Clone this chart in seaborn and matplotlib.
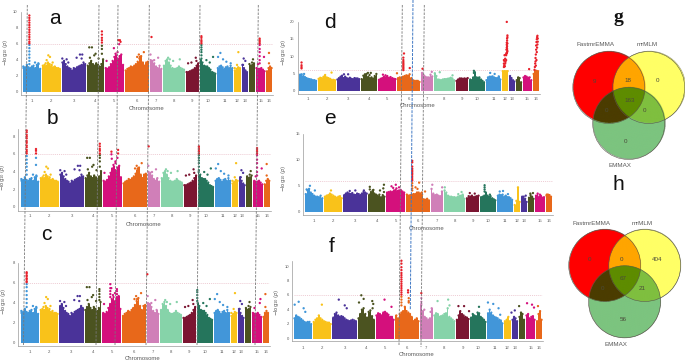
"""
Manhattan plots (a-f) and Venn diagrams (g, h) of significant loci.
"""

import matplotlib
matplotlib.use("Agg")
import matplotlib.pyplot as plt
from matplotlib.patches import Circle
import seaborn as sns
import pandas as pd
import numpy as np

chrom_labels = ["1", "2", "3", "4", "5", "6", "7", "8", "9", "10", "11", "12", "13", "", "15", "16"]
chrom_lengths = [55, 56, 73, 51, 57, 72, 37, 65, 40, 48, 48, 20, 18, 18, 29, 18]
chrom_colors = ["#3f96d9", "#f9c21a", "#4a3399", "#4b5320", "#d4107c", "#e8681a", "#d07fb8", "#86d3a9",
                "#7b1531", "#25755c", "#4296d9", "#f9c21a", "#4a3399", "#4b5320", "#d4107c", "#e8681a"]
threshold = 6

# Сплошная часть каждой хромосомы (верхняя граница облака точек)
abc_profile = [
    [3.0, 3.1, 3.4, 3.1, 3.0, 3.2, 3.3, 3.0, 3.4, 3.5, 2.9],
    [3.3, 3.4, 3.3, 3.7, 3.5, 3.3, 3.1, 3.2, 3.0, 3.0, 2.9],
    [3.7, 3.9, 3.5, 3.2, 3.0, 2.9, 2.7, 3.0, 2.9, 3.1, 3.2, 3.3, 3.4, 3.7, 3.5],
    [3.3, 3.6, 3.9, 3.5, 3.3, 3.6, 3.4, 3.2, 3.5, 4.1],
    [3.0, 2.9, 3.1, 3.5, 3.9, 4.4, 4.6, 4.2, 4.5, 4.7, 3.4],
    [2.7, 2.9, 3.0, 3.2, 3.1, 3.3, 3.5, 3.8, 4.2, 4.5, 3.7, 3.3, 3.7, 3.8],
    [4.0, 3.9, 3.6, 3.2, 3.0, 3.3, 2.9],
    [3.3, 3.9, 4.1, 3.7, 3.3, 3.0, 2.9, 2.9, 3.0, 3.2, 3.0, 2.9, 2.8],
    [2.5, 2.5, 2.6, 2.7, 2.8, 3.0, 3.3, 3.6],
    [4.0, 3.7, 3.3, 3.2, 3.2, 3.0, 2.8, 2.5, 2.4, 2.3],
    [3.0, 3.2, 3.3, 3.1, 2.9, 3.1, 3.2, 3.0, 3.3, 3.0],
    [2.7, 2.9, 3.1, 3.0],
    [3.4, 3.0, 2.7, 2.5],
    [3.5, 3.3, 3.4, 3.6],
    [3.0, 2.9, 2.9, 3.0, 2.8, 2.6],
    [2.6, 3.0, 3.2, 3.0],
]
d_profile = [
    [4.8, 4.9, 4.4, 4.1, 3.8, 3.6, 3.5, 3.4, 3.2, 3.2, 3.0],
    [3.6, 3.9, 3.8, 4.2, 4.7, 4.0, 3.8, 3.6, 3.3, 3.3, 3.2],
    [3.4, 3.8, 4.2, 4.5, 3.8, 4.2, 3.8, 3.6, 3.9, 3.6, 3.5, 3.8, 3.7, 3.7, 3.5],
    [3.5, 4.5, 4.9, 5.0, 4.2, 3.8, 4.0, 3.7, 4.4, 5.0],
    [3.3, 3.6, 3.8, 4.2, 4.0, 4.4, 3.9, 4.1, 3.8, 3.6, 3.5],
    [3.8, 4.0, 3.9, 4.2, 4.4, 4.6, 4.5, 4.9, 3.8, 3.2, 3.0, 3.0, 3.0, 2.7],
    [5.3, 4.6, 4.2, 4.0, 4.0, 4.8, 4.3],
    [5.2, 4.4, 3.4, 3.3, 3.2, 3.4, 3.5, 3.5, 3.6, 3.7, 3.9, 3.7, 3.2],
    [3.0, 3.4, 3.7, 3.7, 3.6, 3.7, 3.6, 3.8],
    [3.4, 3.2, 4.0, 5.5, 4.0, 3.9, 4.0, 3.4, 3.0, 2.6],
    [3.2, 4.0, 4.2, 4.2, 4.3, 4.0, 3.8, 3.8, 4.3, 3.4],
    [5.8, 5.8, 5.8, 5.8],
    [4.4, 3.8, 3.2, 2.8],
    [3.2, 4.0, 3.8, 2.6],
    [4.0, 4.4, 4.2, 3.9, 4.0, 3.2],
    [5.0, 5.8, 5.9, 5.8],
]
e_profile = [
    [3.5, 4.2, 4.5, 3.8, 3.5, 3.2, 3.0, 3.0, 2.9, 3.2, 2.7],
    [3.0, 3.2, 3.3, 3.6, 3.4, 3.2, 3.0, 2.8, 3.0, 3.1, 2.7],
    [3.3, 3.6, 3.8, 3.6, 3.5, 3.7, 3.4, 3.3, 3.6, 3.5, 3.3, 3.6, 3.9, 3.8, 3.6],
    [3.4, 3.9, 4.2, 3.6, 3.4, 3.2, 3.4, 2.9, 3.3, 3.0],
    [3.8, 3.9, 4.0, 3.9, 4.2, 4.3, 4.1, 4.2, 4.3, 4.0, 3.8],
    [3.4, 3.2, 3.3, 3.4, 3.5, 3.5, 3.8, 3.8, 3.6, 3.4, 2.5, 2.4, 2.6, 2.3],
    [4.5, 3.6, 3.3, 3.4, 3.2, 3.1, 4.0],
    [4.2, 3.8, 3.2, 3.0, 3.0, 2.9, 2.9, 2.8, 3.0, 3.1, 3.2, 3.4, 2.6],
    [2.7, 3.1, 3.0, 3.2, 2.9, 3.0, 3.1, 3.2],
    [2.9, 3.0, 3.2, 3.8, 3.2, 3.0, 3.1, 2.7, 2.5, 2.3],
    [3.2, 3.4, 3.3, 3.4, 3.0, 3.2, 2.9, 2.9, 2.7, 2.4],
    [1.4, 2.2, 4.8, 2.0],
    [3.0, 3.0, 2.6, 2.0],
    [2.8, 3.3, 3.0, 2.6],
    [3.2, 3.6, 3.0, 3.2, 2.8, 2.9],
    [3.2, 3.4, 3.3, 3.0],
]
f_profile = [
    [2.8, 3.2, 3.0, 2.9, 2.7, 2.5, 2.3, 2.2, 2.3, 2.3, 2.0],
    [2.3, 2.6, 2.8, 3.2, 2.8, 2.6, 2.4, 2.3, 2.2, 2.2, 2.0],
    [2.9, 3.4, 3.6, 3.2, 3.0, 3.1, 3.0, 2.8, 2.6, 2.5, 2.4, 2.5, 2.6, 2.5, 2.4],
    [2.8, 3.4, 4.0, 4.2, 3.4, 2.9, 3.7, 3.9, 3.1, 2.6],
    [3.2, 3.5, 3.4, 3.2, 3.6, 3.7, 3.5, 3.3, 3.0, 3.0, 2.6],
    [3.2, 2.8, 3.4, 3.6, 3.8, 4.4, 3.8, 3.6, 3.4, 3.0, 2.4, 2.6, 2.8, 2.4],
    [4.6, 3.8, 3.0, 2.8, 2.6, 2.8, 4.2],
    [3.2, 3.5, 3.4, 3.0, 3.1, 3.2, 3.4, 3.5, 4.2, 3.0, 2.8, 2.6, 2.4],
    [2.6, 3.2, 3.8, 3.4, 3.2, 3.0, 2.9, 2.7],
    [2.9, 3.4, 3.2, 3.1, 3.6, 3.5, 3.0, 2.8, 2.6, 2.3],
    [3.5, 4.0, 3.6, 3.2, 3.0, 2.9, 2.8, 2.6, 2.5, 2.1],
    [2.4, 2.6, 3.0, 2.4],
    [2.6, 3.0, 2.8, 2.4],
    [3.0, 3.6, 3.4, 2.6],
    [3.2, 3.4, 2.8, 3.0, 3.1, 2.6],
    [2.4, 3.4, 3.8, 2.6],
]

# Отдельные точки над облаком: позиция по геному и -log10(p)
abc_pos = [37, 47, 2, 77, 82, 72, 90, 69, 87, 119, 132, 172, 162, 179, 177, 137, 200, 208, 215, 202, 228, 219,
           252, 274, 279, 285, 364, 349, 344, 352, 384, 407, 395, 437, 442, 472, 452, 520, 522, 507, 497,
           572, 552, 562, 594, 587, 602, 612, 625, 648, 644, 637, 664, 669, 662, 692, 689, 725, 707, 740, 740]
abc_logp = [3.7, 3.6, 3.2, 4.6, 4.4, 4.0, 3.7, 3.6, 3.4, 4.2, 4.1, 4.7, 4.3, 4.7, 4.2, 3.7, 5.6, 5.6, 4.6, 4.3, 4.2, 4.8,
            3.9, 5.5, 4.8, 5.0, 5.0, 4.7, 4.4, 4.4, 4.7, 4.3, 4.0, 4.3, 4.1, 4.1, 3.9, 4.3, 3.9, 3.7, 3.6,
            4.4, 4.0, 3.7, 4.9, 4.4, 4.1, 3.8, 3.6, 5.0, 3.4, 3.0, 4.2, 3.9, 3.4, 4.1, 3.7, 4.4, 3.5, 4.9, 3.6]

a_pos = [20] * 20 + [238] * 8 + [292, 294, 290, 287] + [387] + [537] * 11 + [712] * 10
a_logp = [3.5, 3.9, 4.3, 4.7, 5.1, 5.5, 5.9, 6.1, 6.3, 6.6, 6.9, 7.2, 7.5, 7.8, 8.1, 8.4, 8.7, 9.0, 9.3, 9.6,
          7.6, 7.2, 6.8, 6.5, 6.2, 5.8, 5.4, 4.8, 6.5, 6.3, 6.0, 6.5, 6.9,
          4.2, 4.6, 5.0, 5.3, 5.6, 5.9, 6.1, 6.3, 6.5, 6.8, 7.0,
          3.6, 4.0, 4.5, 5.0, 5.4, 5.9, 6.1, 6.3, 6.5, 6.7]

b_pos = [18] * 18 + [46] * 5 + [238] * 9 + [273, 273, 293, 293, 291, 285] + [385] + [536] * 11 + [711] * 10
b_logp = [3.7, 4.2, 4.6, 5.0, 5.4, 5.8, 6.1, 6.3, 6.5, 6.8, 7.0, 7.3, 7.5, 7.8, 8.0, 8.2, 8.5, 8.7,
          4.8, 5.6, 6.1, 6.4, 6.6,
          4.6, 5.2, 5.6, 5.9, 6.1, 6.4, 6.6, 6.9, 7.2, 6.3, 6.0, 6.1, 6.5, 5.6, 5.2, 6.9,
          4.2, 4.6, 5.0, 5.3, 5.6, 5.9, 6.1, 6.3, 6.5, 6.7, 6.9,
          3.6, 4.0, 4.5, 5.0, 5.4, 5.9, 6.1, 6.3, 6.5, 6.7]

c_pos = [18] * 15 + [238] * 5 + [271] * 5 + [291] * 4 + [383] + [534] * 5 + [723]
c_logp = [3.6, 4.0, 4.4, 4.8, 5.2, 5.6, 5.9, 6.1, 6.2, 6.4, 6.5, 6.7, 6.8, 7.0, 7.1,
          4.3, 4.6, 4.9, 5.2, 5.4, 4.6, 4.9, 5.2, 5.5, 5.9, 4.6, 4.9, 5.2, 5.4, 6.9, 4.2, 4.5, 4.8, 5.1, 5.3, 4.0]

d_pos = [7, 7, 7, 7, 15, 326, 326, 326, 326, 326, 326, 326, 326, 326, 328, 346, 386, 415, 101, 140, 153, 215,
         220, 224, 262, 270, 306, 480, 440, 547, 547, 598, 612, 720,
         641, 641, 641, 642, 642, 643, 644, 645, 645, 646, 647, 648, 648, 649, 649, 650, 650, 650, 650, 651,
         651, 651, 651, 651, 652, 652, 652, 652, 650,
         737, 738, 739, 740, 740, 741, 741, 742, 742, 743, 743, 744, 744, 745, 745, 746, 746, 747, 747]
d_logp = [8.3, 7.5, 7.0, 6.6, 5.0, 6.1, 6.5, 6.9, 7.3, 7.7, 8.1, 8.5, 9.0, 9.7, 10.9, 6.7, 6.5, 5.6, 5.4, 4.9, 4.9, 5.3,
          4.7, 5.3, 4.8, 4.6, 5.2, 4.6, 5.5, 5.9, 5.3, 5.3, 5.0, 6.4,
          7.0, 8.0, 9.0, 7.5, 8.8, 10.4, 7.2, 8.0, 9.4, 8.5, 10.6, 9.0, 10.4, 11.0, 12.0, 10.9, 12.6, 13.4, 14.0, 11.3,
          12.2, 13.0, 14.6, 15.2, 11.6, 13.8, 15.6, 16.1, 20.0,
          6.2, 7.0, 8.0, 8.6, 9.6, 7.4, 10.6, 12.0, 13.2, 9.0, 14.2, 11.3, 15.0, 12.6, 15.6, 13.5, 16.0, 14.3, 15.2]

e_pos = [15, 5, 10, 30, 79, 136, 153, 179, 197, 197, 208, 240, 238, 228, 240, 263, 276, 286, 268, 278,
         326, 326, 326, 326, 326, 326, 326, 326, 326, 326, 326, 326, 326, 326, 326,
         347, 342, 365, 355, 336, 387, 417, 400, 425, 476, 466, 501, 516, 546, 546, 546, 546, 562, 602, 592, 617,
         671, 693, 685, 714, 735]
e_logp = [5.1, 4.4, 4.3, 4.2, 4.2, 4.1, 4.2, 4.2, 4.9, 4.4, 4.3, 5.3, 4.6, 4.2, 3.9, 5.0, 5.3, 4.8, 4.7, 4.6,
          4.2, 4.6, 5.1, 5.6, 6.1, 6.4, 6.8, 7.2, 7.5, 7.8, 8.1, 8.4, 8.8, 9.6, 9.9,
          5.7, 4.5, 4.0, 3.8, 4.8, 5.3, 4.8, 3.3, 4.8, 3.9, 3.5, 3.7, 3.6, 4.0, 4.4, 4.8, 5.2, 3.4, 4.1, 4.0, 3.5,
          3.2, 3.7, 3.6, 3.4, 3.4]

f_pos = [3, 15, 30, 35, 85, 136, 154, 160, 204, 211, 197, 237, 240, 238, 274, 295,
         325, 325, 325, 325, 325, 325, 325, 325, 325, 325, 325, 325, 325, 325, 325, 325, 325, 325, 325,
         345, 345, 347, 347, 347, 385, 385, 385, 385, 394, 413,
         434, 466, 470, 497, 514, 529, 559, 586, 602, 618, 623, 657, 667, 680, 704, 719, 737, 725]
f_logp = [4.7, 5.1, 4.2, 3.7, 4.7, 5.4, 4.6, 4.2, 6.0, 5.5, 5.0, 5.2, 4.8, 4.2, 5.4, 4.4,
          4.6, 5.0, 5.4, 5.8, 6.1, 6.4, 6.7, 7.0, 7.3, 7.6, 7.9, 8.2, 8.5, 8.8, 9.1, 9.5, 9.9, 10.4, 10.8,
          6.7, 6.4, 5.6, 5.2, 5.0, 6.3, 5.6, 5.1, 4.8, 4.0, 3.7,
          5.2, 5.4, 4.6, 4.5, 4.5, 3.8, 4.4, 5.0, 4.8, 4.2, 3.3, 3.6, 3.9, 4.5, 4.9, 4.7, 4.5, 4.3]

# Размещение панелей в пикселях исходной картинки
panels = [
    dict(profile=abc_profile, extra=(abc_pos, abc_logp), own=(a_pos, a_logp), left=22.7, right=272.3, base=92.0, unit=7.97,
         spine=20.7, axis=95.0, ymax=10.0, ticks=[0, 2, 4, 6, 8, 10], ylab=(6, 52), xlab=(146.7, 109), xtick_y=100.7, letter="a", letter_xy=(55, 19)),
    dict(profile=abc_profile, extra=(abc_pos, abc_logp), own=(b_pos, b_logp), left=20.7, right=270.0, base=207.3, unit=8.83,
         spine=18.3, axis=210.7, ymax=8.9, ticks=[0, 2, 4, 6, 8], ylab=(3, 177), xlab=(144, 224.3), xtick_y=216, letter="b", letter_xy=(52, 119)),
    dict(profile=abc_profile, extra=(abc_pos, abc_logp), own=(c_pos, c_logp), left=20.7, right=268.7, base=342.7, unit=9.92,
         spine=18.3, axis=345.5, ymax=8.0, ticks=[0, 2, 4, 6, 8], ylab=(4, 301.7), xlab=(143, 359), xtick_y=351.7, letter="c", letter_xy=(46, 234)),
    dict(profile=d_profile, extra=([], []), own=(d_pos, d_logp), left=299.3, right=538.7, base=91.3, unit=3.47,
         spine=297.7, axis=94.0, ymax=20.0, ticks=[0, 5, 10, 15, 20], ylab=(283.7, 52), xlab=(418, 105.7), xtick_y=99, letter="d", letter_xy=(330, 23)),
    dict(profile=e_profile, extra=([], []), own=(e_pos, e_logp), left=305.0, right=551.7, base=212.3, unit=5.2,
         spine=303.3, axis=215.5, ymax=15.0, ticks=[0, 5, 10, 15], ylab=(284, 178), xlab=(427, 229), xtick_y=221.3, letter="e", letter_xy=(330, 119)),
    dict(profile=f_profile, extra=([], []), own=(f_pos, f_logp), left=293.7, right=542.3, base=338.5, unit=7.2,
         spine=292.3, axis=341.0, ymax=10.8, ticks=[0, 2, 4, 6, 8, 10], ylab=(276.7, 302), xlab=(417, 355), xtick_y=347.7, letter="f", letter_xy=(331.7, 247)),
]

# Пунктирные направляющие: x вверху, x внизу, y начала, y конца
guide_top = [27.3, 99.0, 118.0, 149.3, 200.0, 258.3, 402.3, 424.3]
guide_bottom = [23.5, 96.0, 115.0, 146.0, 197.0, 255.0, 399.0, 421.0]
guide_start = [5, 5, 5, 5, 5, 5, 5, 5]
guide_end = [345, 345, 345, 345, 345, 345, 345, 347]
blue_guide_x = [413.0, 410.3]
blue_guide_y = [0, 310]

venn_centers_g = [(608.8, 87.5), (648.7, 87.5), (628.7, 123.5)]
venn_centers_h = [(604.7, 265.5), (644.7, 265.5), (624.5, 301.8)]
venn_radius = 36
venn_region_colors = {(1, 0, 0): "#ff0000", (0, 1, 0): "#ffff66", (0, 0, 1): "#7cc47f", (1, 1, 0): "#ffa500",
                      (1, 0, 1): "#4b3c00", (0, 1, 1): "#7fbf3f", (1, 1, 1): "#5e8c00"}
venn_names_g = [("FastmrEMMA", 596, 45), ("mrMLM", 647, 45), ("EMMAX", 620.3, 165.7)]
venn_names_h = [("FastmrEMMA", 592, 223.3), ("mrMLM", 642.7, 223.3), ("EMMAX", 616.3, 344)]
venn_counts_g = [("9", 594, 81.3), ("18", 627.7, 81), ("0", 658, 81), ("163", 629.3, 100.7),
                 ("0", 606.3, 110), ("0", 644.3, 110), ("0", 625.3, 141.3)]
venn_counts_h = [("0", 590, 259.3), ("0", 621.3, 259.3), ("404", 657.3, 259.3), ("67", 623.3, 278.3),
                 ("0", 602.3, 288.3), ("21", 642, 288.3), ("56", 623.3, 319.3)]

WIDTH, HEIGHT = 685, 363
GAP = 3
TEXT_COLOR = "#5a5a5a"

sns.set_theme(style="white")
plt.rcParams["font.family"] = ["Liberation Sans", "DejaVu Sans"]
plt.rcParams["mathtext.fontset"] = "dejavusans"

lengths = np.array(chrom_lengths)
starts = np.concatenate([[0], np.cumsum(lengths[:-1] + GAP)])
ends = starts + lengths
centers = starts + lengths / 2


def draw_manhattan(fig, p):
    units_per_px = ends[-1] / (p["right"] - p["left"])
    top_px = p["base"] - p["ymax"] * p["unit"]
    ax = fig.add_axes([p["spine"] / WIDTH, 1 - p["axis"] / HEIGHT,
                       (p["right"] + 1 - p["spine"]) / WIDTH, (p["axis"] - top_px) / HEIGHT])
    ax.patch.set_alpha(0)
    ax.set_xlim(-(p["left"] - p["spine"]) * units_per_px, ends[-1] + units_per_px)
    ax.set_ylim(-(p["axis"] - p["base"]) / p["unit"], p["ymax"])

    top_x, top_y, top_group = [], [], []
    for i, heights in enumerate(p["profile"]):
        xs = np.linspace(starts[i], ends[i], len(heights) + 1)
        ax.stairs(heights, xs, baseline=0, fill=True, color=chrom_colors[i], linewidth=0)
        top_x.extend((xs[:-1] + xs[1:]) / 2)
        top_y.extend(heights)
        top_group.extend([i] * len(heights))

    pos = list(p["extra"][0]) + list(p["own"][0])
    logp = list(p["extra"][1]) + list(p["own"][1])
    groups = [int(np.searchsorted(ends, x)) for x in pos]
    groups = [min(g, 15) for g in groups]
    df = pd.DataFrame({"pos": top_x + pos, "logp": top_y + logp, "chrom": top_group + groups})
    df["group"] = df["chrom"].astype(str)
    df.loc[df["logp"] > threshold, "group"] = "hit"
    palette = {str(i): c for i, c in enumerate(chrom_colors)}
    palette["hit"] = "#e8202a"
    sns.scatterplot(data=df, x="pos", y="logp", hue="group", palette=palette, s=2.8, linewidth=0,
                    legend=False, ax=ax, clip_on=False, zorder=3)

    ax.plot([0, ends[-1]], [threshold, threshold], color="#e8b9c4", lw=0.5, ls=(0, (1.5, 1.5)), zorder=2)

    sns.despine(ax=ax)
    for side in ["left", "bottom"]:
        ax.spines[side].set_color("#9a9a9a")
        ax.spines[side].set_linewidth(0.5)
    ax.set_xticks(centers, [""] * len(centers))
    ax.set_yticks(p["ticks"], [])
    ax.tick_params(length=1.2, width=0.4, color="#777777", pad=0)
    ax.set_xlabel("")
    ax.set_ylabel("")
    return ax


def draw_venn(ax, venn_centers, names, counts):
    xs = np.array([c[0] for c in venn_centers])
    ys = np.array([c[1] for c in venn_centers])
    x0, x1 = xs.min() - venn_radius - 1, xs.max() + venn_radius + 1
    y0, y1 = ys.min() - venn_radius - 1, ys.max() + venn_radius + 1
    gx, gy = np.meshgrid(np.linspace(x0, x1, 500), np.linspace(y0, y1, 500))
    inside = [(gx - cx) ** 2 + (gy - cy) ** 2 <= venn_radius ** 2 for cx, cy in venn_centers]
    rgba = np.zeros(gx.shape + (4,))
    for key, color in venn_region_colors.items():
        mask = (inside[0] == bool(key[0])) & (inside[1] == bool(key[1])) & (inside[2] == bool(key[2]))
        rgba[mask] = matplotlib.colors.to_rgba(color)
    ax.imshow(rgba, extent=(x0, x1, y1, y0), aspect="auto", zorder=2, interpolation="antialiased")
    for center in venn_centers:
        ax.add_patch(Circle(center, venn_radius, fill=False, ec="#5a5a4a", lw=0.4, zorder=3))
    for label, x, y in names:
        ax.text(x, y, label, ha="center", va="center", fontsize=4.5, color=TEXT_COLOR, zorder=4)
    for label, x, y in counts:
        ax.text(x, y, label, ha="center", va="center", fontsize=4.5, color="#4a4a3a", zorder=4)


fig = plt.figure(figsize=(WIDTH / 100, HEIGHT / 100), dpi=100)
fig.patch.set_facecolor("white")

for p in panels:
    draw_manhattan(fig, p)

# Общий слой в пикселях: подписи, направляющие и диаграммы Венна
overlay = fig.add_axes([0, 0, 1, 1])
overlay.patch.set_alpha(0)
overlay.axis("off")

for x_top, x_bottom, y_start, y_end in zip(guide_top, guide_bottom, guide_start, guide_end):
    overlay.plot([x_top, x_bottom], [y_start, y_end], color="#777777", lw=0.6, ls=(0, (3, 1.5)), zorder=5)
overlay.plot(blue_guide_x, blue_guide_y, color="#3f78c4", lw=0.7, ls=(0, (3, 1.2)), zorder=5)

for p in panels:
    units_per_px = ends[-1] / (p["right"] - p["left"])
    for label, center in zip(chrom_labels, centers):
        overlay.text(p["left"] + center / units_per_px, p["xtick_y"], label, ha="center", va="center",
                     fontsize=3.1, color=TEXT_COLOR)
    for tick in p["ticks"]:
        overlay.text(p["spine"] - 3, p["base"] - tick * p["unit"], str(tick), ha="right", va="center",
                     fontsize=3.0, color=TEXT_COLOR)
    overlay.text(p["xlab"][0], p["xlab"][1], "Chromosome", ha="center", va="center", fontsize=4.3, color=TEXT_COLOR)
    overlay.text(p["ylab"][0], p["ylab"][1], r"$-\log_{10}(p)$", rotation=90, ha="center", va="center",
                 fontsize=3.8, color=TEXT_COLOR)
    overlay.text(p["letter_xy"][0], p["letter_xy"][1], p["letter"], ha="center", va="center",
                 fontsize=15, color="#111111")

draw_venn(overlay, venn_centers_g, venn_names_g, venn_counts_g)
draw_venn(overlay, venn_centers_h, venn_names_h, venn_counts_h)
overlay.text(618, 17, "g", family="Liberation Serif", fontweight="bold", fontsize=14, ha="center", va="center", color="#111111")
overlay.text(618, 185, "h", fontsize=15, ha="center", va="center", color="#111111")

overlay.set_xlim(0, WIDTH)
overlay.set_ylim(HEIGHT, 0)

plt.savefig("out.png", dpi=100)
plt.close()
